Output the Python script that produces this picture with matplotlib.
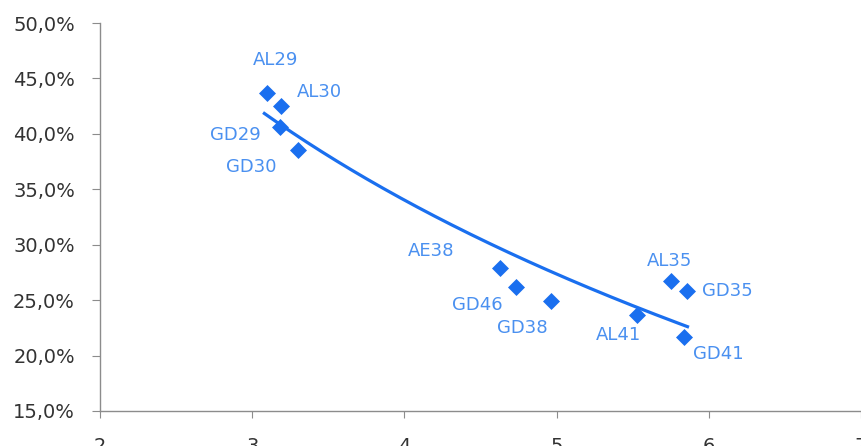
import numpy as np
import matplotlib.pyplot as plt

# bonos: duration (x) vs TIR (y, %)
bonos = ['AL29', 'AL30', 'GD29', 'GD30', 'AE38', 'GD46', 'GD38', 'AL41', 'AL35', 'GD35', 'GD41']
duration = [3.10, 3.19, 3.18, 3.30, 4.63, 4.73, 4.96, 5.53, 5.75, 5.86, 5.84]
tir = [43.7, 42.5, 40.6, 38.5, 27.9, 26.2, 24.9, 23.7, 26.7, 25.8, 21.7]

# posicion de cada etiqueta (pixeles respecto al punto) y alineacion
offsets = {
    'AL29': (8, 33, 'center'),
    'AL30': (16, 14, 'left'),
    'GD29': (-19, -8, 'right'),
    'GD30': (-21, -17, 'right'),
    'AE38': (-46, 17, 'right'),
    'GD46': (-13, -18, 'right'),
    'GD38': (-28, -27, 'center'),
    'AL41': (-19, -20, 'center'),
    'AL35': (-1, 20, 'center'),
    'GD35': (15, 0, 'left'),
    'GD41': (9, -17, 'left'),
}

azul = '#1A6FEF'
azul_txt = '#4A90F0'
gris = '#8C8C8C'

plt.rcParams['font.family'] = ['DejaVu Sans']

fig = plt.figure(figsize=(8.61, 4.46), dpi=100)
ax = fig.add_axes([100 / 861, 35 / 446, 761 / 861, 388 / 446])

# linea de tendencia logaritmica (ajuste de los puntos)
x = np.array(duration)
y = np.array(tir)
b, a = np.polyfit(np.log(x), y, 1)
xs = np.linspace(x.min() - 0.02, x.max(), 200)
ax.plot(xs, a + b * np.log(xs), color=azul, lw=2.3, zorder=2)

ax.scatter(duration, tir, marker='D', s=75, color=azul, zorder=3, linewidths=0)

for nombre, xi, yi in zip(bonos, duration, tir):
    dx, dy, ha = offsets[nombre]
    ax.annotate(nombre, (xi, yi), xytext=(dx, dy), textcoords='offset pixels',
                ha=ha, va='center', fontsize=13, color=azul_txt)

ax.set_xlim(2, 7)
ax.set_ylim(15, 50)
ax.set_xticks([2, 3, 4, 5, 6, 7])
yt = [15, 20, 25, 30, 35, 40, 45, 50]
ax.set_yticks(yt)
ax.set_yticklabels([f'{v:.1f}%'.replace('.', ',') for v in yt])

for lado in ['top', 'right']:
    ax.spines[lado].set_visible(False)
for lado in ['left', 'bottom']:
    ax.spines[lado].set_color(gris)
    ax.spines[lado].set_linewidth(1)

ax.tick_params(axis='y', length=6, color=gris, labelsize=14, labelcolor='#333333', pad=12)
ax.tick_params(axis='x', length=5, color=gris, labelsize=14, labelcolor='#333333', pad=14)

fig.savefig('out.png', dpi=100)
